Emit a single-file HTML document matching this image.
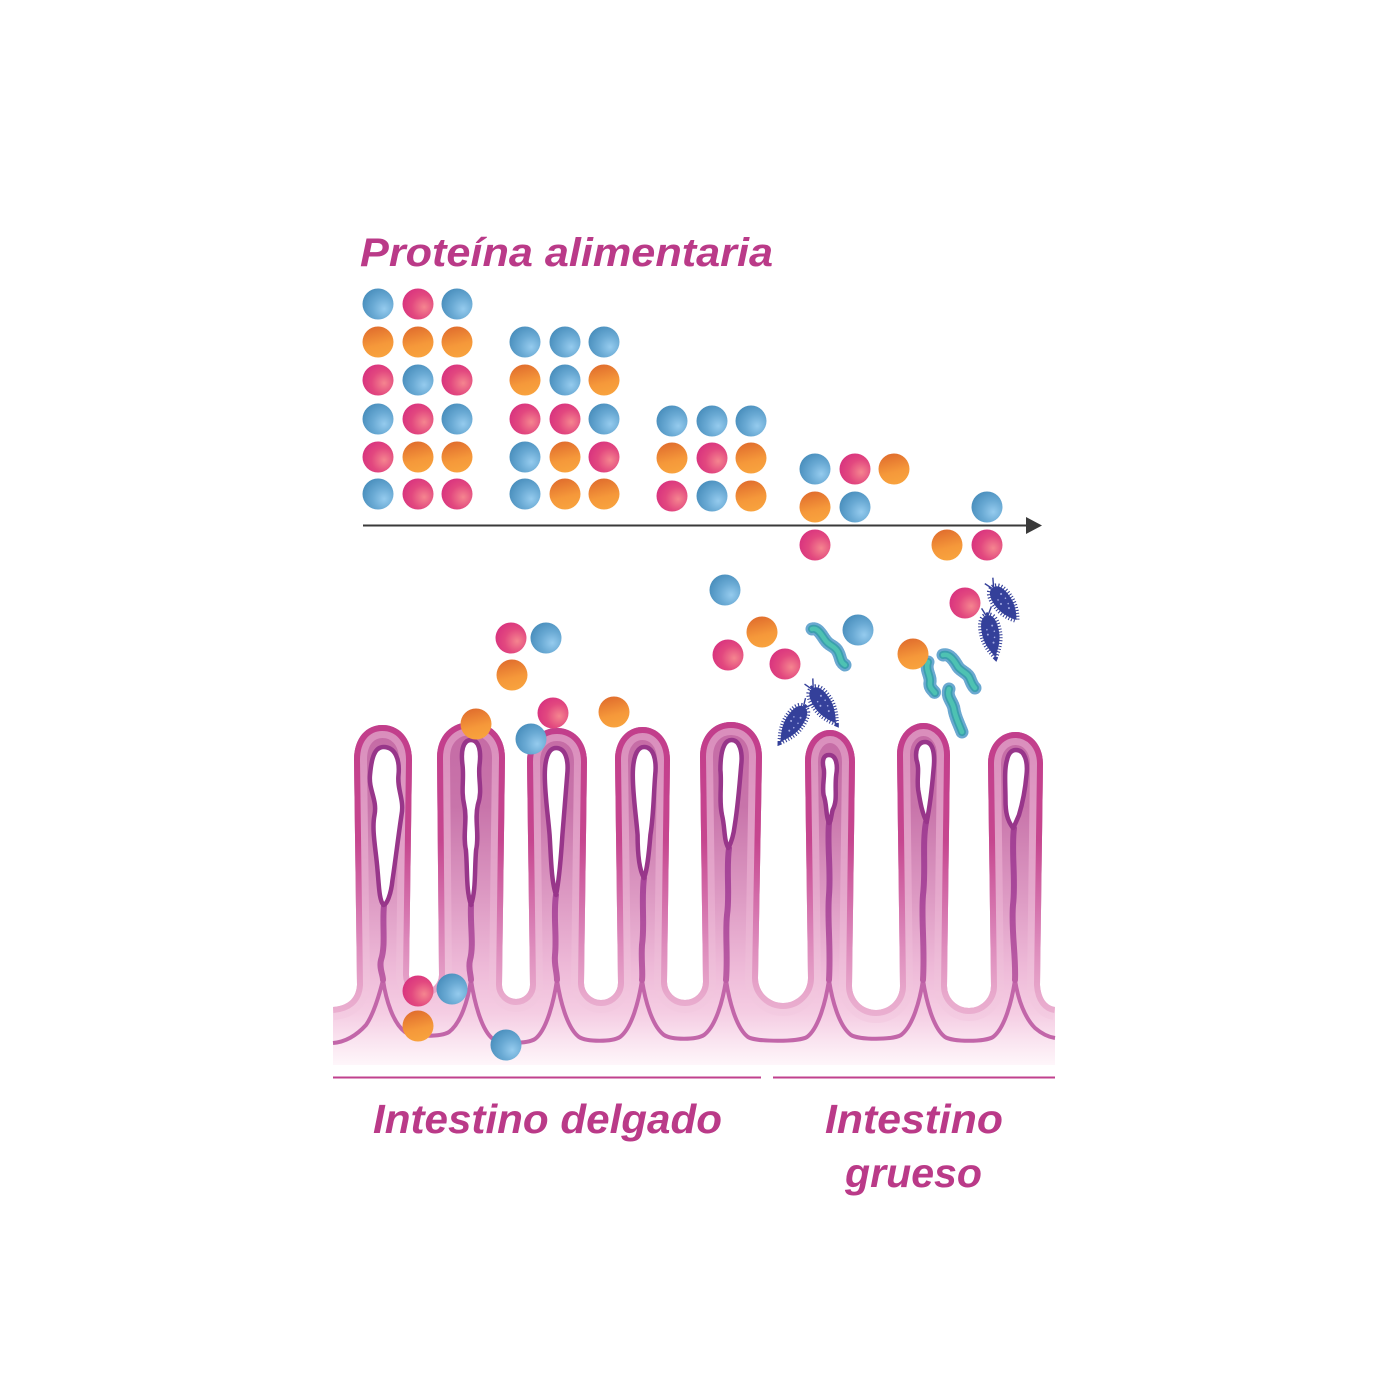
<!DOCTYPE html>
<html><head><meta charset="utf-8"><style>
html,body{margin:0;padding:0;background:#fff;}
svg{display:block;}
</style></head><body>
<svg width="1400" height="1400" viewBox="0 0 1400 1400" xmlns="http://www.w3.org/2000/svg">
<defs>
  <radialGradient id="gb" cx="0.68" cy="0.64" r="0.72" fx="0.7" fy="0.66">
    <stop offset="0" stop-color="#95cbee"/><stop offset="0.5" stop-color="#6aaad4"/><stop offset="1" stop-color="#4a8fbd"/>
  </radialGradient>
  <radialGradient id="gp" cx="0.68" cy="0.6" r="0.72" fx="0.7" fy="0.6">
    <stop offset="0" stop-color="#f5858f"/><stop offset="0.55" stop-color="#e2487f"/><stop offset="1" stop-color="#d8327f"/>
  </radialGradient>
  <linearGradient id="go" x1="0.35" y1="0" x2="0.6" y2="1">
    <stop offset="0" stop-color="#e06d2d"/><stop offset="0.6" stop-color="#f5983a"/><stop offset="1" stop-color="#f8a33e"/>
  </linearGradient>
  <linearGradient id="gFill" gradientUnits="userSpaceOnUse" x1="0" y1="720" x2="0" y2="1065">
    <stop offset="0" stop-color="#c56aa5"/><stop offset="0.25" stop-color="#c874aa"/><stop offset="0.5" stop-color="#dc98c2"/>
    <stop offset="0.72" stop-color="#eebad8"/><stop offset="0.85" stop-color="#f5cde3"/><stop offset="0.93" stop-color="#fae4f0"/><stop offset="1" stop-color="#fef6fa"/>
  </linearGradient>
  <linearGradient id="gBand" gradientUnits="userSpaceOnUse" x1="0" y1="720" x2="0" y2="1065">
    <stop offset="0" stop-color="#d98cbb"/><stop offset="0.5" stop-color="#e5a8cc"/><stop offset="0.8" stop-color="#f2c6de"/><stop offset="1" stop-color="#f7d8ea"/>
  </linearGradient>
  <linearGradient id="gBorder" gradientUnits="userSpaceOnUse" x1="0" y1="720" x2="0" y2="1065">
    <stop offset="0" stop-color="#c23d8b"/><stop offset="0.35" stop-color="#c6468f"/><stop offset="0.6" stop-color="#d97fb5"/><stop offset="0.8" stop-color="#e8a9cc"/><stop offset="1" stop-color="#efbfda"/>
  </linearGradient>
  <linearGradient id="gLac" gradientUnits="userSpaceOnUse" x1="0" y1="740" x2="0" y2="985">
    <stop offset="0" stop-color="#98368a"/><stop offset="0.6" stop-color="#a8479a"/><stop offset="1" stop-color="#bd5fa5"/>
  </linearGradient>
  <clipPath id="clipT">
    <path d="M333,1007 C346,1006 356,1000 357,985 L354,760 C354,737 367,725 382.5,725 C398,725 412,737 412,760 L409,975 A15,15 0 0 0 439,975 L437,758 C437,735 452,722 471,722 C490,722 505,735 505,758 L502,985 A14,14 0 0 0 530,985 L527,762 C527,740 541,728 557,728 C573,728 587,740 587,762 L584,983 A17,17 0 0 0 618,983 L615,760 C615,739 628,727 642.5,727 C657,727 670,739 670,760 L667,982 A18,18 0 0 0 703,982 L700,757 C700,735 714,722 731,722 C748,722 762,735 762,757 L758,978 A25,25 0 0 0 808,978 L805,762 C805,742 817,730 830,730 C843,730 855,742 855,762 L852,986 A24,24 0 0 0 900,986 L897,755 C897,735 910,723 923.5,723 C937,723 950,735 950,755 L947,986 A22,22 0 0 0 991,986 L988,764 C988,744 1001,732 1015.5,732 C1030,732 1043,744 1043,764 L1040,985 C1041,1000 1048,1006 1055,1007 L1055,1065 L333,1065 Z"/>
  </clipPath>
</defs>

<!-- Title -->
<text x="360" y="266" font-family="Liberation Sans, Arial, sans-serif" font-weight="bold" font-style="italic" font-size="40" fill="#ba3a88" textLength="413" lengthAdjust="spacingAndGlyphs">Proteína alimentaria</text>

<!-- Arrow -->
<line x1="363" y1="525.5" x2="1028" y2="525.5" stroke="#3a3a3a" stroke-width="2"/>
<polygon points="1026,517 1042,525.5 1026,534" fill="#3a3a3a"/>

<!-- Tissue -->
<path fill="url(#gFill)" d="M333,1007 C346,1006 356,1000 357,985 L354,760 C354,737 367,725 382.5,725 C398,725 412,737 412,760 L409,975 A15,15 0 0 0 439,975 L437,758 C437,735 452,722 471,722 C490,722 505,735 505,758 L502,985 A14,14 0 0 0 530,985 L527,762 C527,740 541,728 557,728 C573,728 587,740 587,762 L584,983 A17,17 0 0 0 618,983 L615,760 C615,739 628,727 642.5,727 C657,727 670,739 670,760 L667,982 A18,18 0 0 0 703,982 L700,757 C700,735 714,722 731,722 C748,722 762,735 762,757 L758,978 A25,25 0 0 0 808,978 L805,762 C805,742 817,730 830,730 C843,730 855,742 855,762 L852,986 A24,24 0 0 0 900,986 L897,755 C897,735 910,723 923.5,723 C937,723 950,735 950,755 L947,986 A22,22 0 0 0 991,986 L988,764 C988,744 1001,732 1015.5,732 C1030,732 1043,744 1043,764 L1040,985 C1041,1000 1048,1006 1055,1007 L1055,1065 L333,1065 Z"/>
<g clip-path="url(#clipT)" fill="none">
  <path stroke="url(#gBand)" stroke-width="26" d="M333,1007 C346,1006 356,1000 357,985 L354,760 C354,737 367,725 382.5,725 C398,725 412,737 412,760 L409,975 A15,15 0 0 0 439,975 L437,758 C437,735 452,722 471,722 C490,722 505,735 505,758 L502,985 A14,14 0 0 0 530,985 L527,762 C527,740 541,728 557,728 C573,728 587,740 587,762 L584,983 A17,17 0 0 0 618,983 L615,760 C615,739 628,727 642.5,727 C657,727 670,739 670,760 L667,982 A18,18 0 0 0 703,982 L700,757 C700,735 714,722 731,722 C748,722 762,735 762,757 L758,978 A25,25 0 0 0 808,978 L805,762 C805,742 817,730 830,730 C843,730 855,742 855,762 L852,986 A24,24 0 0 0 900,986 L897,755 C897,735 910,723 923.5,723 C937,723 950,735 950,755 L947,986 A22,22 0 0 0 991,986 L988,764 C988,744 1001,732 1015.5,732 C1030,732 1043,744 1043,764 L1040,985 C1041,1000 1048,1006 1055,1007"/>
  <path stroke="url(#gBorder)" stroke-width="12" d="M333,1007 C346,1006 356,1000 357,985 L354,760 C354,737 367,725 382.5,725 C398,725 412,737 412,760 L409,975 A15,15 0 0 0 439,975 L437,758 C437,735 452,722 471,722 C490,722 505,735 505,758 L502,985 A14,14 0 0 0 530,985 L527,762 C527,740 541,728 557,728 C573,728 587,740 587,762 L584,983 A17,17 0 0 0 618,983 L615,760 C615,739 628,727 642.5,727 C657,727 670,739 670,760 L667,982 A18,18 0 0 0 703,982 L700,757 C700,735 714,722 731,722 C748,722 762,735 762,757 L758,978 A25,25 0 0 0 808,978 L805,762 C805,742 817,730 830,730 C843,730 855,742 855,762 L852,986 A24,24 0 0 0 900,986 L897,755 C897,735 910,723 923.5,723 C937,723 950,735 950,755 L947,986 A22,22 0 0 0 991,986 L988,764 C988,744 1001,732 1015.5,732 C1030,732 1043,744 1043,764 L1040,985 C1041,1000 1048,1006 1055,1007"/>
</g>

<!-- Lower core boundary wavy line -->
<path fill="none" stroke="#c266a9" stroke-width="4" stroke-linejoin="round" d="
M333,1043 C345,1042 356,1036 366,1025 C373,1015 378,1000 383,980
C386,1000 393,1023 405,1032 C413,1037 441,1037 449,1032 C461,1023 468,1000 471,980
C474,1000 481,1030 493,1039 C501,1044 527,1044 535,1039 C547,1030 554,1000 557,980
C560,1000 567,1028 579,1037 C587,1042 612,1042 620,1037 C632,1028 639,1000 642,980
C645,1000 652,1026 664,1035 C672,1040 696,1040 704,1035 C716,1026 723,1000 726,980
C729,1000 736,1028 748,1037 C756,1042 799,1042 807,1037 C819,1028 826,1000 829,980
C832,1000 839,1026 851,1035 C859,1040 893,1040 901,1035 C913,1026 920,1000 923,980
C926,1000 933,1028 945,1037 C953,1042 985,1042 993,1037 C1005,1028 1012,1000 1015,980
C1018,1000 1025,1018 1035,1028 C1042,1034 1048,1037 1055,1038"/>

<!-- Lacteal tails -->
<g fill="none" stroke="url(#gLac)" stroke-width="6" stroke-linecap="round">
  <path d="M384,905 C382,925 386,945 381,960 C379,968 383,975 383,980"/>
  <path d="M471,905 C470,925 474,945 470,960 C468,968 471,975 471,980"/>
  <path d="M556,895 C553,915 557,935 555,955 C554,965 557,972 557,980"/>
  <path d="M644,878 C641,900 645,925 642,945 C641,960 643,972 642,980"/>
  <path d="M729,848 C726,870 730,895 727,915 C725,935 728,955 726,980"/>
  <path d="M829,823 C827,845 831,870 829,895 C827,920 831,945 829,980"/>
  <path d="M926,822 C922,845 926,870 923,895 C921,920 925,945 923,980"/>
  <path d="M1014,828 C1011,850 1016,880 1013,905 C1011,930 1016,955 1015,980"/>
</g>
<!-- Lacteal slits (widened horizontally) -->
<g fill="#ffffff" stroke="#98368a" stroke-width="4.5" stroke-linejoin="round">
  <g transform="translate(385,0) scale(1.5,1) translate(-385,0)"><path vector-effect="non-scaling-stroke" d="M384,747 C392,747 395,760 394,775 C393,790 398,800 396,815 C394,835 392,860 390,880 C389,895 386,905 384,905 C381,900 381,885 380,870 C379,850 376,830 378,815 C380,800 374,790 375,775 C376,758 378,747 384,747 Z"/></g>
  <g transform="translate(471,0) scale(1.7,1) translate(-471,0)"><path vector-effect="non-scaling-stroke" d="M471,740 C476,740 477,752 476,765 C475,780 478,790 475,805 C473,820 476,835 474,850 C473,870 474,890 471,905 C468,890 469,870 468,850 C466,835 469,820 467,805 C465,790 467,780 466,765 C465,752 466,740 471,740 Z"/></g>
  <g transform="translate(556,0) scale(1.6,1) translate(-556,0)"><path vector-effect="non-scaling-stroke" d="M556,748 C562,748 564,760 563,775 C562,795 561,815 560,835 C559,860 558,880 556,895 C553,880 553,860 552,835 C551,815 549,795 549,775 C549,760 551,748 556,748 Z"/></g>
  <g transform="translate(644,0) scale(1.6,1) translate(-644,0)"><path vector-effect="non-scaling-stroke" d="M644,747 C650,747 652,760 651,775 C650,795 650,815 648,835 C647,855 646,870 644,878 C641,870 640,855 640,835 C639,815 637,795 637,775 C637,760 639,747 644,747 Z"/></g>
  <g transform="translate(730,0) scale(1.6,1) translate(-730,0)"><path vector-effect="non-scaling-stroke" d="M731,740 C736,740 738,752 737,765 C736,785 735,805 733,825 C732,838 730,845 729,848 C726,840 727,828 725,815 C723,800 725,785 724,770 C724,752 726,740 731,740 Z"/></g>
  <g transform="translate(829,0) scale(1.8,1) translate(-829,0)"><path vector-effect="non-scaling-stroke" d="M829,755 C833,755 834,765 833,775 C832,790 834,800 831,810 C830,818 830,822 829,823 C827,815 828,805 826,795 C825,785 827,775 826,768 C825,760 826,755 829,755 Z"/></g>
  <g transform="translate(925,0) scale(1.7,1) translate(-925,0)"><path vector-effect="non-scaling-stroke" d="M925,742 C930,742 931,755 930,770 C929,790 928,805 926,822 C923,812 922,800 921,790 C920,778 922,770 920,760 C919,750 921,742 925,742 Z"/></g>
  <g transform="translate(1016,0) scale(1.5,1) translate(-1016,0)"><path vector-effect="non-scaling-stroke" d="M1016,750 C1022,750 1024,762 1023,775 C1022,792 1020,805 1018,815 C1016,822 1015,826 1014,828 C1010,820 1009,812 1009,800 C1009,785 1008,770 1010,760 C1011,753 1013,750 1016,750 Z"/></g>
</g>

<!-- Teal worm bacteria -->
<g fill="none" stroke-linecap="round">
  <g stroke="#6aa8d0" stroke-width="13" stroke-dasharray="1 1.4">
    <path d="M812,629 C818,627 822,636 826,641 C830,646 835,646 838,652 C841,658 840,662 845,665"/>
    <path d="M928,662 C925,670 931,676 930,682 C929,688 933,690 935,693"/>
    <path d="M943,655 C950,653 955,662 958,667 C962,672 968,673 970,679 C972,684 973,686 975,688"/>
    <path d="M949,689 C946,697 953,702 954,709 C955,716 958,722 962,732"/>
  </g>
  <g stroke="#3b9fae" stroke-width="8">
    <path d="M812,629 C818,627 822,636 826,641 C830,646 835,646 838,652 C841,658 840,662 845,665"/>
    <path d="M928,662 C925,670 931,676 930,682 C929,688 933,690 935,693"/>
    <path d="M943,655 C950,653 955,662 958,667 C962,672 968,673 970,679 C972,684 973,686 975,688"/>
    <path d="M949,689 C946,697 953,702 954,709 C955,716 958,722 962,732"/>
  </g>
  <g stroke="#4ec2b2" stroke-width="4.5">
    <path d="M812,629 C818,627 822,636 826,641 C830,646 835,646 838,652 C841,658 840,662 845,665"/>
    <path d="M928,662 C925,670 931,676 930,682 C929,688 933,690 935,693"/>
    <path d="M943,655 C950,653 955,662 958,667 C962,672 968,673 970,679 C972,684 973,686 975,688"/>
    <path d="M949,689 C946,697 953,702 954,709 C955,716 958,722 962,732"/>
  </g>
</g>

<!-- Hairy dark blue bacteria -->
<g transform="translate(1004,603) rotate(53.7)">
  <path d="M-19,0 C-19,-8 -8,-9 0,-8.5 C8,-8 16,-4 21,0 C16,4 8,8 0,8.5 C-8,9 -19,8 -19,0 Z" fill="#34409a" stroke="#34409a" stroke-width="6" stroke-dasharray="1 1.8"/>
  <path d="M-19,-1 L-27,-6 M-19,1 L-27,4" stroke="#34409a" stroke-width="1.4"/>
  <circle cx="-9" cy="-3" r="1" fill="#a4abe2"/><circle cx="-1" cy="3" r="1" fill="#a4abe2"/><circle cx="7" cy="-1" r="1" fill="#a4abe2"/><circle cx="-3" cy="-4" r="0.8" fill="#a4abe2"/><circle cx="3" cy="-3" r="0.8" fill="#a4abe2"/><circle cx="-6" cy="3" r="0.8" fill="#a4abe2"/>
</g>
<g transform="translate(991,635) rotate(78.7)">
  <path d="M-20,0 C-20,-8 -8,-9 0,-8.5 C8,-8 16,-4 22,0 C16,4 8,8 0,8.5 C-8,9 -20,8 -20,0 Z" fill="#34409a" stroke="#34409a" stroke-width="6" stroke-dasharray="1 1.8"/>
  <path d="M-20,-1 L-28,-6 M-20,1 L-28,4" stroke="#34409a" stroke-width="1.4"/>
  <circle cx="-9" cy="-3" r="1" fill="#a4abe2"/><circle cx="-1" cy="3" r="1" fill="#a4abe2"/><circle cx="8" cy="-1" r="1" fill="#a4abe2"/><circle cx="-3" cy="-4" r="0.8" fill="#a4abe2"/><circle cx="3" cy="-3" r="0.8" fill="#a4abe2"/><circle cx="-6" cy="3" r="0.8" fill="#a4abe2"/>
</g>
<g transform="translate(823.5,705) rotate(56)">
  <path d="M-20,0 C-20,-8 -8,-9 0,-8.5 C8,-8 16,-4 22,0 C16,4 8,8 0,8.5 C-8,9 -20,8 -20,0 Z" fill="#34409a" stroke="#34409a" stroke-width="6" stroke-dasharray="1 1.8"/>
  <path d="M-20,-1 L-28,-6 M-20,1 L-28,4" stroke="#34409a" stroke-width="1.4"/>
  <circle cx="-9" cy="-3" r="1" fill="#a4abe2"/><circle cx="-1" cy="3" r="1" fill="#a4abe2"/><circle cx="8" cy="-1" r="1" fill="#a4abe2"/><circle cx="-3" cy="-4" r="0.8" fill="#a4abe2"/><circle cx="3" cy="-3" r="0.8" fill="#a4abe2"/><circle cx="-6" cy="3" r="0.8" fill="#a4abe2"/>
</g>
<g transform="translate(793,723.5) rotate(124.4)">
  <path d="M-20,0 C-20,-8 -8,-9 0,-8.5 C8,-8 16,-4 22,0 C16,4 8,8 0,8.5 C-8,9 -20,8 -20,0 Z" fill="#34409a" stroke="#34409a" stroke-width="6" stroke-dasharray="1 1.8"/>
  <path d="M-20,-1 L-28,-6 M-20,1 L-28,4" stroke="#34409a" stroke-width="1.4"/>
  <circle cx="-9" cy="-3" r="1" fill="#a4abe2"/><circle cx="-1" cy="3" r="1" fill="#a4abe2"/><circle cx="8" cy="-1" r="1" fill="#a4abe2"/><circle cx="-3" cy="-4" r="0.8" fill="#a4abe2"/><circle cx="3" cy="-3" r="0.8" fill="#a4abe2"/><circle cx="-6" cy="3" r="0.8" fill="#a4abe2"/>
</g>

<!-- Balls -->
<g>
  <circle cx="378" cy="304" r="15.5" fill="url(#gb)"/><circle cx="418" cy="304" r="15.5" fill="url(#gp)"/><circle cx="457" cy="304" r="15.5" fill="url(#gb)"/>
  <circle cx="378" cy="342" r="15.5" fill="url(#go)"/><circle cx="418" cy="342" r="15.5" fill="url(#go)"/><circle cx="457" cy="342" r="15.5" fill="url(#go)"/>
  <circle cx="378" cy="380" r="15.5" fill="url(#gp)"/><circle cx="418" cy="380" r="15.5" fill="url(#gb)"/><circle cx="457" cy="380" r="15.5" fill="url(#gp)"/>
  <circle cx="378" cy="419" r="15.5" fill="url(#gb)"/><circle cx="418" cy="419" r="15.5" fill="url(#gp)"/><circle cx="457" cy="419" r="15.5" fill="url(#gb)"/>
  <circle cx="378" cy="457" r="15.5" fill="url(#gp)"/><circle cx="418" cy="457" r="15.5" fill="url(#go)"/><circle cx="457" cy="457" r="15.5" fill="url(#go)"/>
  <circle cx="378" cy="494" r="15.5" fill="url(#gb)"/><circle cx="418" cy="494" r="15.5" fill="url(#gp)"/><circle cx="457" cy="494" r="15.5" fill="url(#gp)"/>
  <circle cx="525" cy="342" r="15.5" fill="url(#gb)"/><circle cx="565" cy="342" r="15.5" fill="url(#gb)"/><circle cx="604" cy="342" r="15.5" fill="url(#gb)"/>
  <circle cx="525" cy="380" r="15.5" fill="url(#go)"/><circle cx="565" cy="380" r="15.5" fill="url(#gb)"/><circle cx="604" cy="380" r="15.5" fill="url(#go)"/>
  <circle cx="525" cy="419" r="15.5" fill="url(#gp)"/><circle cx="565" cy="419" r="15.5" fill="url(#gp)"/><circle cx="604" cy="419" r="15.5" fill="url(#gb)"/>
  <circle cx="525" cy="457" r="15.5" fill="url(#gb)"/><circle cx="565" cy="457" r="15.5" fill="url(#go)"/><circle cx="604" cy="457" r="15.5" fill="url(#gp)"/>
  <circle cx="525" cy="494" r="15.5" fill="url(#gb)"/><circle cx="565" cy="494" r="15.5" fill="url(#go)"/><circle cx="604" cy="494" r="15.5" fill="url(#go)"/>
  <circle cx="672" cy="421" r="15.5" fill="url(#gb)"/><circle cx="712" cy="421" r="15.5" fill="url(#gb)"/><circle cx="751" cy="421" r="15.5" fill="url(#gb)"/>
  <circle cx="672" cy="458" r="15.5" fill="url(#go)"/><circle cx="712" cy="458" r="15.5" fill="url(#gp)"/><circle cx="751" cy="458" r="15.5" fill="url(#go)"/>
  <circle cx="672" cy="496" r="15.5" fill="url(#gp)"/><circle cx="712" cy="496" r="15.5" fill="url(#gb)"/><circle cx="751" cy="496" r="15.5" fill="url(#go)"/>
  <circle cx="815" cy="469" r="15.5" fill="url(#gb)"/><circle cx="855" cy="469" r="15.5" fill="url(#gp)"/><circle cx="894" cy="469" r="15.5" fill="url(#go)"/>
  <circle cx="815" cy="507" r="15.5" fill="url(#go)"/><circle cx="855" cy="507" r="15.5" fill="url(#gb)"/>
  <circle cx="815" cy="545" r="15.5" fill="url(#gp)"/>
  <circle cx="987" cy="507" r="15.5" fill="url(#gb)"/><circle cx="947" cy="545" r="15.5" fill="url(#go)"/><circle cx="987" cy="545" r="15.5" fill="url(#gp)"/>
  <circle cx="511" cy="638" r="15.5" fill="url(#gp)"/><circle cx="546" cy="638" r="15.5" fill="url(#gb)"/><circle cx="512" cy="675" r="15.5" fill="url(#go)"/>
  <circle cx="476" cy="724" r="15.5" fill="url(#go)"/><circle cx="553" cy="713" r="15.5" fill="url(#gp)"/><circle cx="531" cy="739" r="15.5" fill="url(#gb)"/><circle cx="614" cy="712" r="15.5" fill="url(#go)"/>
  <circle cx="725" cy="590" r="15.5" fill="url(#gb)"/><circle cx="762" cy="632" r="15.5" fill="url(#go)"/><circle cx="728" cy="655" r="15.5" fill="url(#gp)"/><circle cx="785" cy="664" r="15.5" fill="url(#gp)"/><circle cx="858" cy="630" r="15.5" fill="url(#gb)"/>
  <circle cx="965" cy="603" r="15.5" fill="url(#gp)"/><circle cx="913" cy="654" r="15.5" fill="url(#go)"/>
  <circle cx="418" cy="991" r="15.5" fill="url(#gp)"/><circle cx="452" cy="989" r="15.5" fill="url(#gb)"/><circle cx="418" cy="1026" r="15.5" fill="url(#go)"/><circle cx="506" cy="1045" r="15.5" fill="url(#gb)"/>
</g>

<!-- Section lines -->
<line x1="333" y1="1077.5" x2="761" y2="1077.5" stroke="#c0418e" stroke-width="2"/>
<line x1="773" y1="1077.5" x2="1055" y2="1077.5" stroke="#c0418e" stroke-width="2"/>

<!-- Labels -->
<g font-family="Liberation Sans, Arial, sans-serif" font-weight="bold" font-style="italic" font-size="41" fill="#ba3a88">
  <text x="373" y="1133" textLength="349" lengthAdjust="spacingAndGlyphs">Intestino delgado</text>
  <text x="825" y="1133" textLength="178" lengthAdjust="spacingAndGlyphs">Intestino</text>
  <text x="845" y="1187" textLength="137" lengthAdjust="spacingAndGlyphs">grueso</text>
</g>
</svg>
</body></html>
